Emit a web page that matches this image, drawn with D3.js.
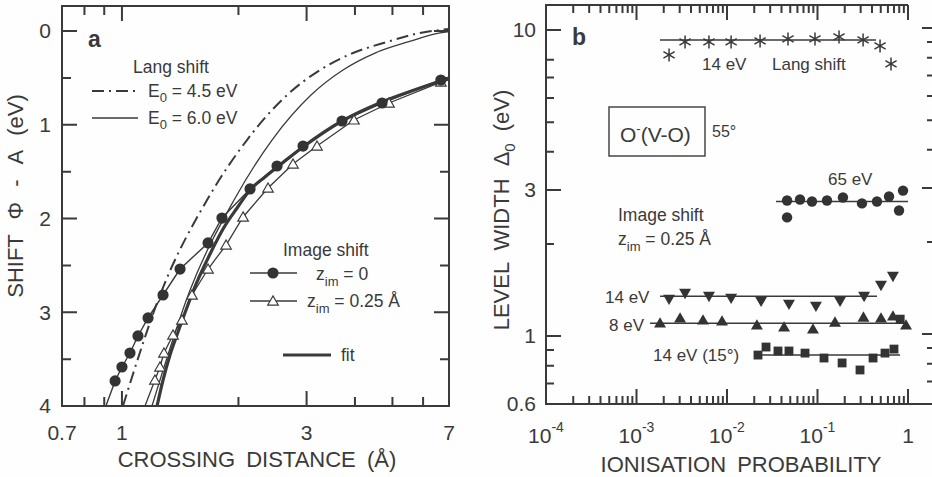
<!DOCTYPE html>
<html>
<head>
<meta charset="utf-8">
<script src="https://cdn.jsdelivr.net/npm/d3@7"></script>
<style>
  body { margin: 0; background: #fefefe; }
  svg { display: block; font-family: "Liberation Sans", Arial, sans-serif; }
</style>
</head>
<body>
<svg width="932" height="477"></svg>
<script>
// ---- panel a : shift vs crossing distance ----
const zim0Dist  = [0.96, 1.00, 1.049, 1.10, 1.168, 1.277, 1.413, 1.669, 1.813, 2.143, 2.516, 2.937, 3.704, 4.70, 6.67];
const zim0Shift = [3.733, 3.584, 3.435, 3.253, 3.061, 2.816, 2.539, 2.261, 1.995, 1.685, 1.440, 1.227, 0.960, 0.768, 0.523];
const zim0Ends  = [[0.909, 4.0], [7.0, 0.50]];

const zim25Dist  = [1.217, 1.254, 1.284, 1.355, 1.429, 1.517, 1.669, 1.858, 2.056, 2.385, 2.767, 3.192, 3.977, 4.899, 6.67];
const zim25Shift = [3.723, 3.584, 3.435, 3.243, 3.083, 2.816, 2.539, 2.283, 1.984, 1.675, 1.419, 1.227, 0.949, 0.768, 0.545];
const zim25Ends  = [[1.147, 4.0], [7.0, 0.52]];

const fitDist  = [1.232, 1.277, 1.331, 1.396, 1.464, 1.563, 1.689, 1.825, 1.984, 2.143, 2.342, 2.561, 2.937, 3.704, 4.70, 5.89, 7.0];
const fitShift = [4.0, 3.723, 3.456, 3.211, 2.976, 2.677, 2.379, 2.112, 1.888, 1.696, 1.557, 1.429, 1.237, 0.960, 0.757, 0.608, 0.501];

const lang45Dist  = [1.006, 1.269, 1.659, 2.104, 2.670, 3.249, 3.954, 4.842, 5.890, 7.0];
const lang45Shift = [4.0, 2.763, 1.803, 1.163, 0.683, 0.416, 0.235, 0.117, 0.021, -0.021];

const lang60Dist  = [1.196, 1.500, 1.948, 2.442, 3.080, 3.725, 4.508, 5.484, 6.635, 7.0];
const lang60Shift = [4.0, 2.763, 1.803, 1.163, 0.683, 0.416, 0.235, 0.117, 0.021, 0.005];

const aXLabels = [0.7, 1, 3, 7];
const aXMajor = [1, 3];
const aXMinor = [0.8, 0.9, 2, 4, 5, 6];
const aYLabels = [0, 1, 2, 3, 4];
const aYMinor = [0.5, 1.5, 2.5, 3.5];

// ---- panel b : level width vs ionisation probability ----
const langProb  = [2.29e-3, 3.44e-3, 6.32e-3, 1.11e-2, 2.32e-2, 4.72e-2, 9.38e-2, 0.173, 0.319, 0.491, 0.649];
const langWidth = [8.29, 9.14, 9.14, 9.14, 9.21, 9.35, 9.35, 9.49, 9.28, 8.87, 7.75];
const langFit   = { from: 1.82e-3, to: 0.443, level: 9.28 };

const e65Prob  = [0.0461, 0.0461, 0.0641, 0.0869, 0.1273, 0.191, 0.310, 0.454, 0.617, 0.796, 0.881];
const e65Width = [2.773, 2.442, 2.795, 2.753, 2.773, 2.837, 2.713, 2.753, 2.858, 2.573, 2.988];
const e65Fit   = { from: 0.0348, to: 1.0, level: 2.753 };

const e14Prob  = [2.29e-3, 3.44e-3, 6.32e-3, 1.11e-2, 0.0238, 0.0484, 0.0961, 0.1775, 0.327, 0.503, 0.682];
const e14Width = [1.330, 1.391, 1.360, 1.340, 1.310, 1.281, 1.262, 1.310, 1.360, 1.477, 1.580];
const e14Fit   = { from: 1.82e-3, to: 0.454, level: 1.35 };

const e8Prob  = [1.82e-3, 3.03e-3, 5.43e-3, 8.81e-3, 0.0214, 0.0427, 0.0891, 0.156, 0.322, 0.503, 0.682, 0.951];
const e8Width = [1.094, 1.136, 1.119, 1.111, 1.078, 1.062, 1.046, 1.102, 1.144, 1.136, 1.153, 1.078];
const e8Fit   = { from: 1.41e-3, to: 0.927, level: 1.102 };

const sq15Prob  = [0.0220, 0.0270, 0.0366, 0.0484, 0.0728, 0.118, 0.187, 0.295, 0.411, 0.557, 0.700, 0.82];
const sq15Width = [0.867, 0.921, 0.894, 0.894, 0.880, 0.848, 0.817, 0.775, 0.848, 0.880, 0.907, 1.136];
const sq15Fit   = { from: 0.0199, to: 0.817, level: 0.867 };

const bXDecades = [1e-4, 1e-3, 1e-2, 1e-1, 1];
const bXLabels  = ['-4', '-3', '-2', '-1', ''];
const bYLabels  = [10, 3, 1, 0.6];
const bYMajor   = [10, 3, 1];
const bYMinorL  = [8, 7, 6, 5, 4, 2, 0.9, 0.8, 0.7];
const bYMinorR  = [9, 8, 7, 6, 5, 4, 2, 0.9, 0.8, 0.7];


const ink = '#3a3a3a';
const svg = d3.select('svg');

// tick marks as one path per set, positions from the scales (inward pointing)
function xTicks(parent, scale, vals, y0, len) {
    const p = d3.path();
    vals.forEach(v => { p.moveTo(scale(v), y0); p.lineTo(scale(v), y0 + len); });
    parent.append('path').attr('d', p.toString())
        .attr('fill', 'none').attr('stroke', ink).attr('stroke-width', 2);
}
function yTicks(parent, scale, vals, x0, len, shift) {
    const p = d3.path();
    vals.forEach(v => { p.moveTo(x0, scale(v) + (shift || 0)); p.lineTo(x0 + len, scale(v) + (shift || 0)); });
    parent.append('path').attr('d', p.toString())
        .attr('fill', 'none').attr('stroke', ink).attr('stroke-width', 2);
}

function label(parent, x, y, size) {
    return parent.append('text').attr('x', x).attr('y', y)
        .attr('fill', ink).style('font-size', size + 'px');
}

// ================= panel a =================
const xa = d3.scaleLog().domain([0.7, 7]).range([62, 449]);
const ya = d3.scaleLinear().domain([0, 4]).range([31, 406]);
const pa = svg.append('g');

pa.append('clipPath').attr('id', 'clipA')
    .append('rect').attr('x', 62).attr('y', 6).attr('width', 387).attr('height', 400);

pa.append('rect').attr('x', 62).attr('y', 6).attr('width', 387).attr('height', 400)
    .attr('fill', 'none').attr('stroke', ink).attr('stroke-width', 2);

xTicks(pa, xa, aXMajor, 406, -15);
xTicks(pa, xa, aXMinor, 406, -9);
xTicks(pa, xa, aXMajor, 6, 15);
xTicks(pa, xa, aXMinor, 6, 9);
yTicks(pa, ya, aYLabels, 62, 15);
yTicks(pa, ya, aYMinor, 62, 9);
yTicks(pa, ya, aYLabels, 449, -15);
yTicks(pa, ya, aYMinor, 449, -9);

pa.selectAll('text.xl').data(aXLabels).join('text').attr('class', 'xl')
    .attr('x', d => xa(d)).attr('y', 440).attr('text-anchor', 'middle')
    .attr('fill', ink).style('font-size', '21px').text(d3.format('~g'));
pa.selectAll('text.yl').data(aYLabels).join('text').attr('class', 'yl')
    .attr('x', 51).attr('y', d => ya(d)).attr('dy', '0.35em').attr('text-anchor', 'end')
    .attr('fill', ink).style('font-size', '21px').text(d3.format('d'));

const lineA = d3.line().x(d => xa(d[0])).y(d => ya(d[1]));
const smoothA = d3.line().x(d => xa(d[0])).y(d => ya(d[1])).curve(d3.curveMonotoneX);
const curvesA = pa.append('g').attr('clip-path', 'url(#clipA)').attr('fill', 'none').attr('stroke', ink);

curvesA.append('path').datum(d3.zip(lang45Dist, lang45Shift))
    .attr('d', smoothA).attr('stroke-width', 2).attr('stroke-dasharray', '12,5,2,5');
curvesA.append('path').datum(d3.zip(lang60Dist, lang60Shift))
    .attr('d', smoothA).attr('stroke-width', 1.3);
curvesA.append('path').datum([zim25Ends[0], ...d3.zip(zim25Dist, zim25Shift), zim25Ends[1]])
    .attr('d', lineA).attr('stroke-width', 1.3);
curvesA.append('path').datum(d3.zip(fitDist, fitShift))
    .attr('d', smoothA).attr('stroke-width', 3.2);
curvesA.append('path').datum([zim0Ends[0], ...d3.zip(zim0Dist, zim0Shift), zim0Ends[1]])
    .attr('d', lineA).attr('stroke-width', 1.4);

const triUp = d3.symbol(d3.symbolTriangle).size(48);
curvesA.selectAll('path.tri').data(d3.zip(zim25Dist, zim25Shift)).join('path')
    .attr('class', 'tri')
    .attr('transform', d => `translate(${xa(d[0])},${ya(d[1]) + 1})`)
    .attr('d', triUp).attr('fill', '#fff').attr('stroke', ink).attr('stroke-width', 1.2);
curvesA.selectAll('circle').data(d3.zip(zim0Dist, zim0Shift)).join('circle')
    .attr('cx', d => xa(d[0])).attr('cy', d => ya(d[1])).attr('r', 5.6)
    .attr('fill', '#333').attr('stroke', 'none');

// axis titles
label(pa, 257, 467, 22).attr('text-anchor', 'middle').style('word-spacing', '5px')
    .text('CROSSING DISTANCE (Å)');
label(pa, 0, 0, 22).attr('text-anchor', 'middle').style('word-spacing', '9px')
    .attr('transform', 'translate(23,196) rotate(-90)')
    .text('SHIFT Φ - A (eV)');

// annotations / legend
label(pa, 88, 47, 23).style('font-weight', 'bold').text('a');
label(pa, 133, 73, 17.5).text('Lang shift');
pa.append('line').attr('x1', 92).attr('x2', 138).attr('y1', 91).attr('y2', 91)
    .attr('stroke', ink).attr('stroke-width', 2).attr('stroke-dasharray', '12,5,2,5');
pa.append('line').attr('x1', 92).attr('x2', 138).attr('y1', 118).attr('y2', 118)
    .attr('stroke', ink).attr('stroke-width', 1.3);
const e45 = label(pa, 148, 97, 17.5);
e45.append('tspan').text('E');
e45.append('tspan').attr('dy', 5).style('font-size', '13px').text('0');
e45.append('tspan').attr('dy', -5).text(' = 4.5 eV');
const e60 = label(pa, 148, 124, 17.5);
e60.append('tspan').text('E');
e60.append('tspan').attr('dy', 5).style('font-size', '13px').text('0');
e60.append('tspan').attr('dy', -5).text(' = 6.0 eV');

label(pa, 283, 256, 17.5).text('Image shift');
pa.append('line').attr('x1', 250).attr('x2', 297).attr('y1', 273).attr('y2', 273)
    .attr('stroke', ink).attr('stroke-width', 1.3);
pa.append('circle').attr('cx', 273).attr('cy', 273).attr('r', 5.6).attr('fill', '#333');
pa.append('line').attr('x1', 250).attr('x2', 297).attr('y1', 301).attr('y2', 301)
    .attr('stroke', ink).attr('stroke-width', 1.3);
pa.append('path').attr('transform', 'translate(273,302)').attr('d', triUp)
    .attr('fill', '#fff').attr('stroke', ink).attr('stroke-width', 1.2);
const z0 = label(pa, 316, 280, 17.5);
z0.append('tspan').text('z');
z0.append('tspan').attr('dy', 6).style('font-size', '13px').text('im');
z0.append('tspan').attr('dy', -6).text(' =  0');
const z25 = label(pa, 307, 307, 17.5);
z25.append('tspan').text('z');
z25.append('tspan').attr('dy', 6).style('font-size', '13px').text('im');
z25.append('tspan').attr('dy', -6).text(' = 0.25 Å');
pa.append('line').attr('x1', 283).attr('x2', 331).attr('y1', 355).attr('y2', 355)
    .attr('stroke', ink).attr('stroke-width', 3.2);
label(pa, 341, 361, 17.5).text('fit');

// ================= panel b =================
const xb = d3.scaleLog().domain([1e-4, 1]).range([546, 908]);
const yb = d3.scaleLog().domain([0.6, 10]).range([404, 30]);
const pb = svg.append('g');

const bMinorX = [];
bXDecades.slice(0, -1).forEach(d => { for (let k = 2; k <= 9; k++) bMinorX.push(d * k); });

pb.append('path').attr('d', 'M908,5H546V404H940')
    .attr('fill', 'none').attr('stroke', ink).attr('stroke-width', 2);

xTicks(pb, xb, bXDecades, 404, -15);
xTicks(pb, xb, bMinorX, 404, -8);
xTicks(pb, xb, bXDecades, 5, 15);
xTicks(pb, xb, bMinorX, 5, 8);
yTicks(pb, yb, bYMajor, 546, 15);
yTicks(pb, yb, bYMinorL, 546, 8);
yTicks(pb, yb, bYMajor, 933, -11, -2);
yTicks(pb, yb, bYMinorR, 933, -6, -2);

pb.selectAll('text.yl').data(bYLabels).join('text').attr('class', 'yl')
    .attr('x', 536).attr('y', d => yb(d)).attr('dy', '0.35em').attr('text-anchor', 'end')
    .attr('fill', ink).style('font-size', '21px').text(d3.format('~g'));

// bottom tick labels with exponents
bXDecades.forEach((v, i) => {
    const t = label(pb, xb(v), 443, 21).attr('text-anchor', 'middle');
    if (bXLabels[i] === '') { t.text('1'); return; }
    t.append('tspan').text('10');
    t.append('tspan').attr('dy', -11).style('font-size', '14px').text(bXLabels[i]);
});

label(pb, 741, 472, 22).attr('text-anchor', 'middle').style('word-spacing', '5px')
    .text('IONISATION PROBABILITY');
const yt = label(pb, 0, 0, 22).attr('text-anchor', 'middle').style('word-spacing', '6px')
    .attr('transform', 'translate(509,210) rotate(-90)');
yt.append('tspan').text('LEVEL WIDTH Δ');
yt.append('tspan').attr('dy', 6).style('font-size', '15px').text('0');
yt.append('tspan').attr('dy', -6).text(' (eV)');

// fit lines
const fitsB = pb.append('g').attr('stroke', ink).attr('stroke-width', 1.6);
[langFit, e65Fit, e14Fit, e8Fit, sq15Fit].forEach(f => {
    fitsB.append('line')
        .attr('x1', xb(f.from)).attr('x2', xb(f.to))
        .attr('y1', yb(f.level)).attr('y2', yb(f.level));
});

// markers
const star = 'M0,-6.5V6.5M-5.6,-3.25L5.6,3.25M-5.6,3.25L5.6,-3.25';
pb.selectAll('path.star').data(d3.zip(langProb, langWidth)).join('path')
    .attr('class', 'star')
    .attr('transform', d => `translate(${xb(d[0])},${yb(d[1])})`)
    .attr('d', star).attr('stroke', ink).attr('stroke-width', 1.5).attr('fill', 'none');

pb.selectAll('circle.e65').data(d3.zip(e65Prob, e65Width)).join('circle')
    .attr('class', 'e65')
    .attr('cx', d => xb(d[0])).attr('cy', d => yb(d[1])).attr('r', 5.2).attr('fill', '#333');

const triB = d3.symbol(d3.symbolTriangle).size(62);
pb.selectAll('path.e14').data(d3.zip(e14Prob, e14Width)).join('path')
    .attr('class', 'e14')
    .attr('transform', d => `translate(${xb(d[0])},${yb(d[1])}) rotate(180)`)
    .attr('d', triB).attr('fill', '#333');
pb.selectAll('path.e8').data(d3.zip(e8Prob, e8Width)).join('path')
    .attr('class', 'e8')
    .attr('transform', d => `translate(${xb(d[0])},${yb(d[1])})`)
    .attr('d', triB).attr('fill', '#333');
const sqB = d3.symbol(d3.symbolSquare).size(78);
pb.selectAll('path.sq').data(d3.zip(sq15Prob, sq15Width)).join('path')
    .attr('class', 'sq')
    .attr('transform', d => `translate(${xb(d[0])},${yb(d[1])})`)
    .attr('d', sqB).attr('fill', '#333');

// annotations
label(pb, 572, 45, 23).style('font-weight', 'bold').text('b');
label(pb, 702, 70, 17).text('14 eV');
label(pb, 772, 70, 17).text('Lang shift');
pb.append('rect').attr('x', 609).attr('y', 107).attr('width', 96).attr('height', 49)
    .attr('fill', 'none').attr('stroke', ink).attr('stroke-width', 1.4);
const ox = label(pb, 620, 142, 21);
ox.append('tspan').text('O');
ox.append('tspan').attr('dy', -9).style('font-size', '13px').text('-');
ox.append('tspan').attr('dy', 9).text('(V-O)');
label(pb, 712, 137, 16).text('55°');
label(pb, 618, 221, 17.5).text('Image shift');
const zb = label(pb, 618, 245, 17.5);
zb.append('tspan').text('z');
zb.append('tspan').attr('dy', 6).style('font-size', '13px').text('im');
zb.append('tspan').attr('dy', -6).text(' = 0.25 Å');
label(pb, 828, 185, 17).text('65 eV');
label(pb, 605, 303, 17).text('14 eV');
label(pb, 609, 331, 17).text('8 eV');
label(pb, 653, 361, 17).text('14 eV (15°)');
</script>
</body>
</html>
